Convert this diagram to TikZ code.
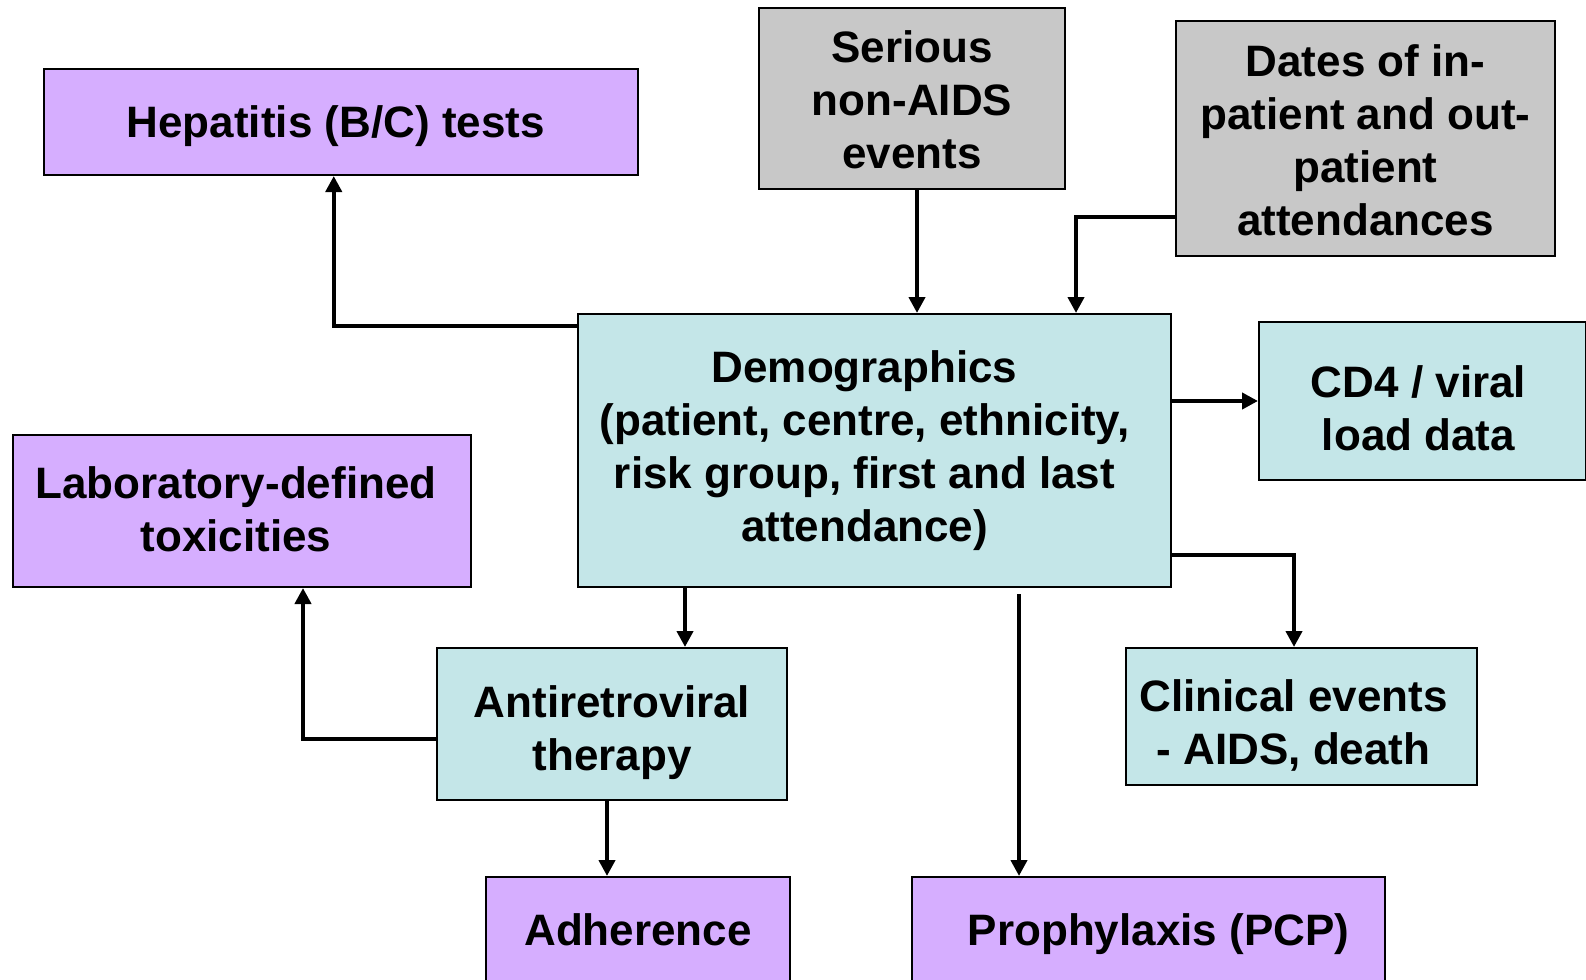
\documentclass[tikz,border=0pt]{standalone}
\usepackage{fontspec}
\setmainfont{Liberation Sans}
\usetikzlibrary{arrows.meta}
\definecolor{boxcyan}{RGB}{196,230,232}
\definecolor{boxpurple}{RGB}{214,174,255}
\definecolor{boxgray}{RGB}{200,200,200}
\begin{document}
\begin{tikzpicture}[x=1pt,y=-1pt,
    box/.style={draw=black,line width=2pt,inner sep=0pt},
    boxtext/.style={inner sep=0pt,align=center,font=\bfseries\fontsize{44}{53}\selectfont},
    cyanbox/.style={box,fill=boxcyan},
    purplebox/.style={box,fill=boxpurple},
    graybox/.style={box,fill=boxgray},
    conn/.style={line width=4.5pt,-{Triangle[width=16pt,length=16pt]}}]
    \clip (0,0) rectangle (1586,979);
    \useasboundingbox (0,0) rectangle (1586,979);

    \node[purplebox,minimum width=594.5,minimum height=106,
        label={[boxtext,xshift=-5,yshift=-4]center:Hepatitis (B/C) tests}] (hep) at (340.75,122) {};
    \node[graybox,minimum width=306,minimum height=181,
        label={[boxtext,yshift=-1]center:Serious\\non-AIDS\\events}] (serious) at (912,98.5) {};
    \node[graybox,minimum width=379,minimum height=235,
        label={[boxtext,yshift=-2]center:Dates of in-\\patient and out-\\patient\\attendances}] (dates) at (1365.5,138.5) {};
    \node[cyanbox,minimum width=593,minimum height=273,
        label={[boxtext,xshift=-10]center:Demographics\\(patient, centre, ethnicity,\\risk group, first and last\\attendance)}] (demo) at (874.5,450.5) {};
    \node[cyanbox,minimum width=327,minimum height=158,
        label={[boxtext,xshift=-4,yshift=-7]center:CD4 / viral\\load data}] (cd4) at (1422.5,401) {};
    \node[purplebox,minimum width=458,minimum height=152,
        label={[boxtext,xshift=-6,yshift=2]center:Laboratory-defined\\toxicities}] (lab) at (242,511) {};
    \node[cyanbox,minimum width=350,minimum height=152,
        label={[boxtext,yshift=-9]center:Antiretroviral\\therapy}] (art) at (612,724) {};
    \node[cyanbox,minimum width=351,minimum height=137,
        label={[boxtext,xshift=-8,yshift=-9]center:Clinical events\\- AIDS, death}] (clin) at (1301.5,716.5) {};
    \node[purplebox,minimum width=304,minimum height=106,
        label={[boxtext]center:Adherence}] (adh) at (638,930) {};
    \node[purplebox,minimum width=473,minimum height=106,
        label={[boxtext,xshift=10,yshift=-4]center:Prophylaxis (PCP)}] (pro) at (1148.5,930) {};

    \draw[conn] ([yshift=-13]demo.north west) -| ([xshift=-7]hep.south);
    \draw[conn] ([xshift=5]serious.south) -- ([xshift=5]serious.south |- demo.north);
    \draw[conn] ([yshift=-78.5]dates.west) -| ([xshift=201.5]demo.north);
    \draw[conn] (demo.east |- cd4.west) -- (cd4.west);
    \draw[conn] ([yshift=-104.5]demo.east) -| ([xshift=-7.5]clin.north);
    \draw[conn] ([xshift=73]art.north |- demo.south) -- ([xshift=73]art.north);
    \draw[conn] ([xshift=-129.5,yshift=-6]pro.north |- demo.south) -- ([xshift=-129.5]pro.north);
    \draw[conn] ([yshift=-15]art.west) -| ([xshift=61]lab.south);
    \draw[conn] ([xshift=-5]art.south) -- ([xshift=-5]art.south |- adh.north);
\end{tikzpicture}
\end{document}
